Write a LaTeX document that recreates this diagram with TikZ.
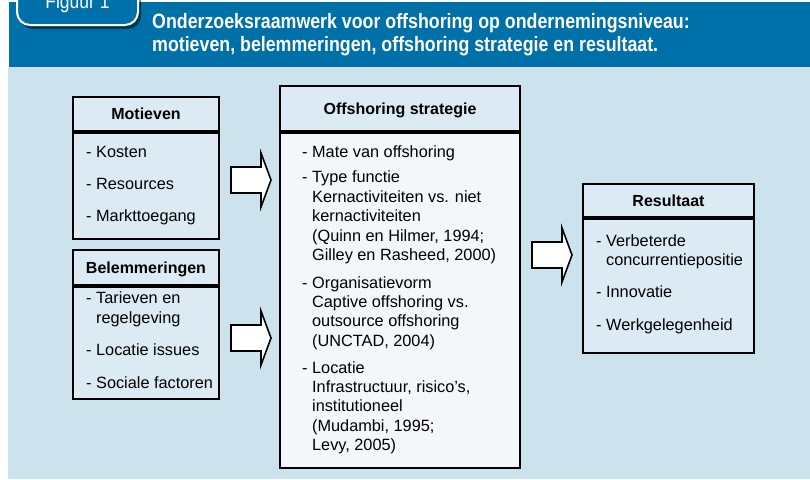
\documentclass[tikz,border=0pt]{standalone}
\usepackage{fontspec}
\setmainfont{Liberation Sans}
\newfontfamily\condfont[FakeStretch=0.855]{Liberation Sans}
\usetikzlibrary{positioning,shadows}

\definecolor{bandblue}{HTML}{0070A8}
\definecolor{paneblue}{HTML}{CCE2EC}
\definecolor{boxblue}{HTML}{DCEBF3}
\definecolor{paleblue}{HTML}{F3F7FA}

\tikzset{
  headbox/.style={draw, line width=2pt, fill=boxblue, inner sep=0pt,
    text height=11.5pt, text depth=0pt, font=\fontsize{16}{19}\selectfont\bfseries},
  bodybox/.style={draw, line width=2pt, fill=boxblue, inner sep=0pt},
  item/.style={anchor=base west, inner sep=0pt, font=\fontsize{16.3}{19.3}\selectfont},
  blockarrow/.style={draw, line width=1.6pt, fill=white, line join=miter},
  figtab/.style={draw=white, line width=2pt, fill=bandblue, rounded corners=13pt,
    minimum width=121, minimum height=46, inner sep=0pt, text=white,
    text height=14pt, text depth=0pt, font=\condfont\fontsize{20.5}{24}\selectfont,
    drop shadow={shadow xshift=3pt, shadow yshift=-4pt, fill=black, opacity=.5}},
  titletext/.style={anchor=base west, inner sep=0pt, text=white,
    font=\condfont\fontsize{20.8}{24}\selectfont\bfseries},
}

% block arrow from a tail point
\newcommand\fatarrow[1]{%
  \draw[blockarrow] (#1) ++(0,-13) -- ++(30,0) -- ++(0,-14) -- ++(10,27)
    -- ++(-10,27) -- ++(0,-14) -- ++(-30,0) -- cycle;}

\begin{document}
\begin{tikzpicture}[x=1pt,y=-1pt]
  \useasboundingbox (0,0) rectangle (810,479);
  \clip (0,0) rectangle (810,479);
  \fill[white] (0,0) rectangle (810,479);
  \fill[paneblue] (8,67) rectangle (810,479);
  \fill[bandblue] (9,2) rectangle (810,67);

  % header
  \node[figtab] (tab) at (77.5,2) {Figuur 1};
  \node[titletext] (title1) at (152,28) {Onderzoeksraamwerk voor offshoring op ondernemingsniveau:};
  \node[titletext] (title2) at (152,51) {motieven, belemmeringen, offshoring strategie en resultaat.};

  % Motieven
  \node[headbox, minimum width=146, minimum height=34] (motH) at (146,114) {Motieven};
  \node[bodybox, minimum width=146, minimum height=106, below=0pt of motH] (motB) {};
  \foreach \y/\t [count=\i] in {157.5/- Kosten, 189.5/- Resources, 221.5/- Markttoegang}
    \node[item] (mot\i) at (86,\y) {\t};

  % Belemmeringen
  \node[headbox, minimum width=146, minimum height=35] (belH) at (146,267.5) {Belemmeringen};
  \node[bodybox, minimum width=146, minimum height=112, below=0pt of belH] (belB) {};
  \foreach \y/\t [count=\i] in {303.5/- Tarieven en, 323.5/\phantom{- }regelgeving,
      355.5/- Locatie issues, 388.5/- Sociale factoren}
    \node[item] (bel\i) at (86,\y) {\t};

  % Offshoring strategie
  \node[headbox, minimum width=240, minimum height=45] (offH) at (400,108.5) {Offshoring strategie};
  \node[bodybox, fill=paleblue, minimum width=240, minimum height=335, below=0pt of offH] (offB) {};
  \foreach \y/\t [count=\i] in {157.5/- Mate van offshoring, 182.5/- Type functie,
      202.5/{\phantom{- }Kernactiviteiten vs. niet}, 221.5/\phantom{- }kernactiviteiten,
      241.5/{\phantom{- }(Quinn en Hilmer, 1994;}, 260.5/{\phantom{- }Gilley en Rasheed, 2000)},
      288.5/- Organisatievorm, 307.5/\phantom{- }Captive offshoring vs.,
      326.5/\phantom{- }outsource offshoring, 346.5/{\phantom{- }(UNCTAD, 2004)},
      373.5/- Locatie, 392.5/{\phantom{- }Infrastructuur, risico’s,},
      411.5/\phantom{- }institutioneel, 431.5/{\phantom{- }(Mudambi, 1995;},
      450.5/{\phantom{- }Levy, 2005)}}
    \node[item] (off\i) at (302,\y) {\t};

  % Resultaat
  \node[headbox, minimum width=171, minimum height=33] (resH) at (668.5,200.5) {Resultaat};
  \node[bodybox, minimum width=171, minimum height=134, below=0pt of resH] (resB) {};
  \foreach \y/\t [count=\i] in {246.5/- Verbeterde, 265.5/\phantom{- }concurrentiepositie,
      297.5/- Innovatie, 330.5/- Werkgelegenheid}
    \node[item] (res\i) at (596,\y) {\t};

  % arrows
  \coordinate (arrMot) at (231,180);
  \coordinate (arrBel) at (231,338);
  \coordinate (arrOff) at (532,255);
  \fatarrow{arrMot}
  \fatarrow{arrBel}
  \fatarrow{arrOff}
\end{tikzpicture}
\end{document}
